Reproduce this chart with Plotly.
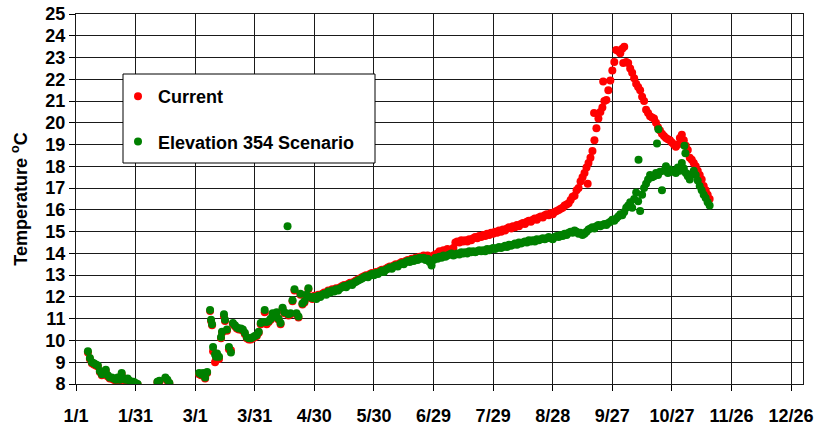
import plotly.graph_objects as go
from datetime import datetime, timedelta

# ---------------- data (day of year offset from Jan 1, temperature in °C) ----------------
cur_days = [6, 7, 8, 9, 10, 11, 12, 13, 14, 15, 16, 17, 18, 19, 20, 21, 22, 23, 24, 25, 26, 27, 28, 29, 30, 31,
            41, 42, 45, 46, 47,
            62, 63, 64, 65, 66, 67.5, 68, 68.5, 69, 70, 70.5, 71, 72, 73, 73.5, 74.5, 75, 76, 77, 78, 79, 80,
            81, 82, 83, 84, 85, 86, 87, 88, 89, 90, 91, 92, 93, 94, 95, 96, 97, 98, 99, 100, 101, 102, 103,
            104, 105, 107, 108, 109, 110, 111, 112, 113, 114, 115, 116, 117, 118, 119,
            120, 121, 122, 123, 124, 125, 126, 127, 128, 129, 130, 131, 132, 133, 134, 135, 136, 137, 138, 139,
            140, 141, 142, 143, 144, 145, 146, 147, 148, 149, 150, 151, 152, 153, 154, 155, 156, 157, 158, 159,
            160, 161, 162, 163, 164, 165, 166, 167, 168, 169, 170, 171, 172, 173, 174, 175, 176, 177, 178, 179,
            180, 181, 182, 183, 184, 185, 186, 187, 188, 189, 190, 191, 192, 193, 194, 195, 196, 197, 198, 199,
            200, 201, 202, 203, 204, 205, 206, 207, 208, 209, 210, 211, 212, 213, 214, 215, 216, 217, 218, 219,
            220, 221, 222, 223, 224, 225, 226, 227, 228, 229, 230, 231, 232, 233, 234, 235, 236, 237, 238, 239,
            240, 241, 242, 243, 244, 245, 246, 247, 248, 249, 250, 251, 252, 253, 254, 255, 256, 257, 258, 259,
            260, 261, 262, 263, 264, 265, 266, 267, 268, 269, 270, 271, 272, 273, 274, 275, 276, 277, 278, 279,
            280, 281, 282, 283, 284, 285, 286, 287, 288, 289, 290, 291, 292, 293, 294, 295, 296, 297, 298, 299,
            300, 301, 302, 303, 304, 305, 306, 307, 308, 309, 310, 311, 312, 313, 314, 315, 316, 317, 318, 319,
            257.6, 260.8, 265.4, 275.5]
cur_temps = [9.45, 9.15, 8.95, 8.9, 8.85, 8.8, 8.55, 8.4, 8.45, 8.6, 8.35, 8.25, 8.25, 8.2, 8.15, 8.25, 8.15, 8.45, 8.2, 8.15, 8.2, 8.1, 8.05, 8.05, 8.0, 7.98,
             8.08, 8.1, 8.25, 8.15, 8.02,
             8.45, 8.4, 8.45, 8.25, 8.5, 11.35, 10.9, 10.7, 9.5, 9.0, 9.1, 9.3, 9.15, 10.1, 10.35, 11.1, 10.9, 10.45, 9.6, 9.55, 10.75, 10.65,
             10.55, 10.5, 10.5, 10.45, 10.3, 10.1, 10.05, 10.05, 10.1, 10.15, 10.2, 10.35, 10.75, 10.8, 11.3, 10.75, 10.85, 10.95, 11.2, 11.05, 11.25, 10.95, 10.75,
             11.45, 11.25, 11.15, 11.2, 11.8, 12.3, 11.2, 11.05, 12.1, 11.65, 11.75, 12.05, 12.35, 11.95, 11.9,
             12.05, 11.95, 12.1, 12.05, 12.15, 12.2, 12.15, 12.3, 12.25, 12.35, 12.3, 12.4, 12.35, 12.45, 12.5, 12.55, 12.5, 12.6, 12.65, 12.6,
             12.7, 12.75, 12.8, 12.85, 12.9, 12.95, 13.0, 12.95, 13.05, 13.1, 13.05, 13.15, 13.1, 13.2, 13.25, 13.2, 13.3, 13.35, 13.4, 13.35,
             13.45, 13.5, 13.45, 13.55, 13.6, 13.55, 13.65, 13.7, 13.65, 13.75, 13.75, 13.8, 13.8, 13.85, 13.85, 13.9, 13.85, 13.9, 13.85, 13.8,
             13.9, 13.95, 14.0, 14.1, 14.05, 14.15, 14.1, 14.2, 14.15, 14.1, 14.25, 14.5, 14.55, 14.5, 14.6, 14.55, 14.6, 14.55, 14.65, 14.6,
             14.7, 14.75, 14.7, 14.8, 14.75, 14.85, 14.8, 14.9, 14.85, 14.95, 14.9, 15.0, 14.95, 15.05, 15.0, 15.1, 15.05, 15.15, 15.2, 15.15,
             15.25, 15.2, 15.3, 15.25, 15.35, 15.4, 15.35, 15.45, 15.5, 15.45, 15.55, 15.6, 15.55, 15.65, 15.7, 15.65, 15.75, 15.8, 15.75, 15.85,
             15.8, 15.9, 15.95, 16.0, 16.05, 16.1, 16.2, 16.25, 16.3, 16.45, 16.6, 16.65, 16.9, 17.0, 17.3, 17.5, 17.7, 17.95, 18.15, 18.4,
             18.7, 19.2, 19.75, 20.2, 20.5, 20.7, 21.0, 21.05, 21.5, 21.95, 22.4, 22.8, 23.35, 23.3, 23.2, 23.4, 23.5, 22.8, 22.75, 22.5,
             22.3, 22.05, 21.8, 21.65, 21.5, 21.2, 21.0, 20.6, 20.45, 20.3, 20.25, 20.2, 20.0, 19.8, 19.65, 19.5, 19.4, 19.3, 19.25, 19.2,
             19.1, 19.0, 18.9, 19.0, 19.3, 19.45, 19.2, 18.95, 18.75, 18.4, 18.3, 18.15, 18.0, 17.8, 17.6, 17.4, 17.1, 16.9, 16.7, 16.5,
             17.2, 20.45, 21.9, 22.75]

elev_days = [6, 7, 8, 9, 10, 11, 12, 13, 14, 15, 16, 17, 18, 19, 20, 21, 22, 23, 24, 25, 26, 27, 28, 29, 30, 31,
             41, 42, 45, 46, 47,
             62, 63, 64, 65, 66, 67.5, 68, 68.5, 69, 70, 70.5, 71, 72, 73, 73.5, 74.5, 75, 76, 77, 78, 79, 80,
             81, 82, 83, 84, 85, 86, 87, 88, 89, 90, 91, 92, 93, 94, 95, 96, 97, 98, 99, 100, 101, 102, 103,
             104, 105, 106.5, 107, 108, 109, 110, 111, 112, 113, 114, 115, 116, 117, 118, 119,
             120, 121, 122, 123, 124, 125, 126, 127, 128, 129, 130, 131, 132, 133, 134, 135, 136, 137, 138, 139,
             140, 141, 142, 143, 144, 145, 146, 147, 148, 149, 150, 151, 152, 153, 154, 155, 156, 157, 158, 159,
             160, 161, 162, 163, 164, 165, 166, 167, 168, 169, 170, 171, 172, 173, 174, 175, 176, 177, 178, 179,
             180, 181, 182, 183, 184, 185, 186, 187, 188, 189, 190, 191, 192, 193, 194, 195, 196, 197, 198, 199,
             200, 201, 202, 203, 204, 205, 206, 207, 208, 209, 210, 211, 212, 213, 214, 215, 216, 217, 218, 219,
             220, 221, 222, 223, 224, 225, 226, 227, 228, 229, 230, 231, 232, 233, 234, 235, 236, 237, 238, 239,
             240, 241, 242, 243, 244, 245, 246, 247, 248, 249, 250, 251, 252, 253, 254, 255, 256, 257, 258, 259,
             260, 261, 262, 263, 264, 265, 266, 267, 268, 269, 270, 271, 272, 273, 274, 275, 276, 277, 278, 279,
             280, 281, 282, 283, 284, 285, 286, 287, 288, 289, 290, 291, 292, 293, 294, 295, 296, 297, 298, 299,
             300, 301, 302, 303, 304, 305, 306, 307, 308, 309, 310, 311, 312, 313, 314, 315, 316, 317, 318, 319,
             283.2, 292.5, 293.2, 306.3, 306.8]
elev_temps = [9.5, 9.2, 9.0, 8.95, 8.9, 8.85, 8.6, 8.45, 8.5, 8.65, 8.4, 8.3, 8.3, 8.25, 8.2, 8.3, 8.2, 8.5, 8.25, 8.2, 8.25, 8.15, 8.1, 8.1, 8.05, 8.0,
              8.1, 8.15, 8.3, 8.2, 8.05,
              8.5, 8.45, 8.5, 8.3, 8.55, 11.4, 10.95, 10.75, 9.7, 9.35, 9.25, 9.4, 9.25, 10.15, 10.4, 11.2, 10.95, 10.5, 9.7, 9.45, 10.8, 10.7,
              10.6, 10.55, 10.55, 10.5, 10.35, 10.15, 10.1, 10.1, 10.15, 10.2, 10.25, 10.4, 10.8, 10.85, 11.4, 10.85, 10.9, 11.0, 11.25, 11.1, 11.3, 11.0, 10.8,
              11.5, 11.3, 15.25, 11.2, 11.25, 11.85, 12.35, 11.25, 11.1, 12.15, 11.7, 11.8, 12.1, 12.4, 12.0, 11.95,
              12.0, 11.9, 12.05, 12.0, 12.1, 12.15, 12.1, 12.25, 12.2, 12.3, 12.25, 12.35, 12.3, 12.4, 12.45, 12.5, 12.45, 12.55, 12.6, 12.55,
              12.65, 12.7, 12.75, 12.8, 12.85, 12.9, 12.95, 12.9, 13.0, 13.05, 13.0, 13.1, 13.05, 13.15, 13.2, 13.15, 13.25, 13.3, 13.35, 13.3,
              13.4, 13.45, 13.4, 13.5, 13.55, 13.5, 13.6, 13.65, 13.6, 13.7, 13.65, 13.75, 13.7, 13.8, 13.75, 13.8, 13.7, 13.75, 13.6, 13.45,
              13.7, 13.8, 13.75, 13.85, 13.8, 13.9, 13.85, 13.9, 13.95, 14.0, 13.9, 13.95, 14.0, 13.95, 14.05, 14.0, 14.05, 14.0, 14.1, 14.05,
              14.1, 14.05, 14.1, 14.15, 14.1, 14.15, 14.1, 14.2, 14.15, 14.2, 14.25, 14.2, 14.25, 14.3, 14.25, 14.3, 14.35, 14.3, 14.4, 14.35,
              14.4, 14.45, 14.4, 14.5, 14.45, 14.5, 14.55, 14.5, 14.6, 14.55, 14.6, 14.55, 14.65, 14.6, 14.65, 14.7, 14.65, 14.7, 14.75, 14.7,
              14.65, 14.75, 14.8, 14.75, 14.85, 14.8, 14.9, 14.85, 14.95, 15.0, 14.95, 15.05, 15.0, 14.9, 14.95, 14.85, 14.9, 15.0, 15.1, 15.15,
              15.2, 15.15, 15.25, 15.3, 15.25, 15.3, 15.35, 15.3, 15.4, 15.45, 15.55, 15.5, 15.6, 15.7, 15.8, 15.75, 15.9, 16.1, 16.2, 16.35,
              16.1, 16.5, 16.8, 16.4, 15.95, 16.7, 17.0, 17.2, 17.4, 17.6, 17.5, 17.55, 17.7, 17.6, 17.75, 16.9, 17.8, 18.0, 17.7, 17.85,
              17.75, 17.8, 17.7, 17.95, 17.8, 18.15, 17.9, 17.7, 17.55, 17.4, 17.65, 17.8, 17.6, 17.35, 17.1, 16.9, 16.7, 16.55, 16.35, 16.2,
              18.3, 19.05, 19.7, 18.95, 18.6]

series_names = ["Current", "Elevation 354 Scenario"]
series_colors = ["#ff0000", "#008000"]
y_title = "Temperature <sup>o</sup>C"

BASE = datetime(2004, 1, 1)


def to_dates(days):
    return [BASE + timedelta(days=d) for d in days]


FONT = "Liberation Sans, Arial, sans-serif"

fig = go.Figure()
fig.add_trace(go.Scatter(x=to_dates(cur_days), y=cur_temps, mode="markers", name=series_names[0],
                         legendgroup="a",
                         marker=dict(color=series_colors[0], size=8, line=dict(width=0))))
fig.add_trace(go.Scatter(x=to_dates(elev_days), y=elev_temps, mode="markers", name=series_names[1],
                         legendgroup="b",
                         marker=dict(color=series_colors[1], size=8, line=dict(width=0))))

W, H = 815, 425
L, R, T, B = 76, 12, 14, 41
pw, ph = W - L - R, H - T - B


def px_x(x):
    return (x - L) / pw


def px_y(y):
    return (H - B - y) / ph


fig.update_layout(
    width=W, height=H,
    margin=dict(l=L, r=R, t=T, b=B, autoexpand=False),
    paper_bgcolor="white", plot_bgcolor="white",
    font=dict(family=FONT, color="black"),
    showlegend=True,
    legend=dict(x=px_x(118), y=px_y(78), xanchor="left", yanchor="top",
                bgcolor="rgba(0,0,0,0)", borderwidth=0,
                font=dict(family=FONT, size=18, weight="bold", color="black"),
                tracegroupgap=19, itemwidth=30, itemsizing="trace"),
    shapes=[dict(type="rect", xref="paper", yref="paper",
                 x0=px_x(123), x1=px_x(375), y0=px_y(163), y1=px_y(74),
                 line=dict(color="black", width=1), fillcolor="white", layer="above")],
    xaxis=dict(type="date", automargin=False,
               range=[BASE, BASE + timedelta(days=366)],
               tick0=BASE, dtick=30 * 86400000, tickformat="%-m/%-d",
               showgrid=True, gridcolor="#1a1a1a", gridwidth=1,
               showline=True, linecolor="#1a1a1a", linewidth=1, mirror=True,
               ticks="outside", ticklen=6, tickcolor="black",
               ticklabelstandoff=9,
               tickfont=dict(family=FONT, size=18, weight="bold", color="black"),
               zeroline=False),
    yaxis=dict(range=[8, 25], dtick=1, tick0=8, automargin=False,
               showgrid=True, gridcolor="#1a1a1a", gridwidth=1,
               showline=True, linecolor="#1a1a1a", linewidth=1, mirror=True,
               ticks="outside", ticklen=6, tickcolor="black",
               tickfont=dict(family=FONT, size=18, weight="bold", color="black"),
               title=dict(text=y_title, font=dict(family=FONT, size=18, weight="bold", color="black"),
                          standoff=13),
               zeroline=False),
)

fig.write_html("out.html", config={"displayModeBar": False},
               post_script="document.body.style.margin='0';document.body.style.overflow='hidden';")
